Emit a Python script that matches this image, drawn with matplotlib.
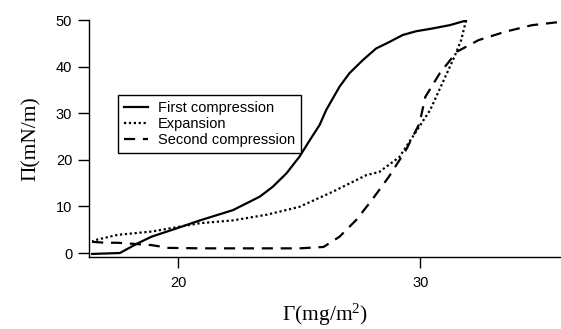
import matplotlib
matplotlib.use("Agg")
import matplotlib.pyplot as plt

plt.rcParams["mathtext.fontset"] = "custom"
plt.rcParams["mathtext.rm"] = "Liberation Serif"
plt.rcParams["mathtext.it"] = "Liberation Serif:italic"
plt.rcParams["mathtext.bf"] = "Liberation Serif:bold"

# First compression (solid)
first_x = [16.45, 17.6, 17.7, 18.3, 18.9, 20.0, 20.9, 22.26, 23.37, 23.9, 24.47, 25.01, 25.43, 25.84,
           26.11, 26.66, 27.07, 27.62, 28.17, 28.72, 29.27, 29.82, 30.5, 31.2, 31.88]
first_y = [-0.2, 0.0, 0.3, 2.0, 3.5, 5.4, 7.0, 9.2, 12.1, 14.2, 17.1, 20.7, 24.2, 27.5,
           30.7, 35.7, 38.6, 41.4, 43.9, 45.3, 46.8, 47.6, 48.2, 48.9, 49.9]

# Expansion (dotted)
exp_x = [31.88, 31.68, 31.4, 30.9, 30.4, 29.9, 29.13, 28.3, 27.76, 26.4, 25.0, 23.64, 22.26, 20.9, 20.0, 18.9, 17.5, 16.6, 16.45]
exp_y = [49.9, 45.7, 42.1, 36.4, 30.7, 26.7, 20.6, 17.4, 16.7, 13.2, 9.9, 8.2, 7.0, 6.4, 5.6, 4.6, 3.9, 2.8, 2.5]

# Second compression (dashed)
sec_x = [16.45, 17.0, 17.5, 18.9, 19.6, 21.0, 23.0, 25.0, 26.0, 26.66, 27.35, 28.0, 28.7, 29.4, 29.96, 30.2, 30.8, 31.5, 32.4, 33.5, 34.6, 35.75]
sec_y = [2.4, 2.2, 2.2, 1.7, 1.1, 1.0, 1.0, 1.0, 1.3, 3.5, 7.1, 11.4, 16.4, 22.1, 27.8, 33.5, 38.6, 43.2, 45.7, 47.5, 48.9, 49.6]

x_ticks = [20, 30]
y_ticks = [0, 10, 20, 30, 40, 50]

fig = plt.figure(figsize=(5.61, 3.29), dpi=100)
ax = fig.add_axes([0.1586, 0.2188, 0.8414, 0.7202])

ax.plot(first_x, first_y, color="black", lw=1.6, ls="-", label="First compression")
ax.plot(exp_x, exp_y, color="black", lw=1.6, ls=(0, (1, 1.2)), label="Expansion")
ax.plot(sec_x, sec_y, color="black", lw=1.6, ls=(0, (5, 3.5)), label="Second compression")

ax.set_xlim(16.32, 35.8)
ax.set_ylim(-0.86, 50)
ax.set_xticks(x_ticks)
ax.set_yticks(y_ticks)
for s in ["top", "right"]:
    ax.spines[s].set_visible(False)
for s in ["left", "bottom"]:
    ax.spines[s].set_linewidth(1.0)
ax.tick_params(direction="out", length=8, width=1.0, labelsize=10.5)
ax.tick_params(axis="y", pad=4)
ax.tick_params(axis="x", pad=6)
for lab in ax.get_xticklabels() + ax.get_yticklabels():
    lab.set_family("Liberation Sans")

ax.set_xlabel("Γ(mg/m$^\\mathrm{2}$)", family="Liberation Serif", fontsize=15.5, labelpad=8)
ax.set_ylabel("Π(mN/m)", family="Liberation Serif", fontsize=15.5, labelpad=11)

leg = ax.legend(loc="upper left", bbox_to_anchor=(0.0614, 0.6835), frameon=True, fancybox=False,
                edgecolor="black", framealpha=1, borderpad=0.4, labelspacing=0.15,
                handlelength=1.65, handletextpad=0.7, borderaxespad=0,
                prop={"family": "Liberation Sans", "size": 10.5})
leg.get_frame().set_linewidth(1.0)

fig.savefig("out.png", dpi=100)
